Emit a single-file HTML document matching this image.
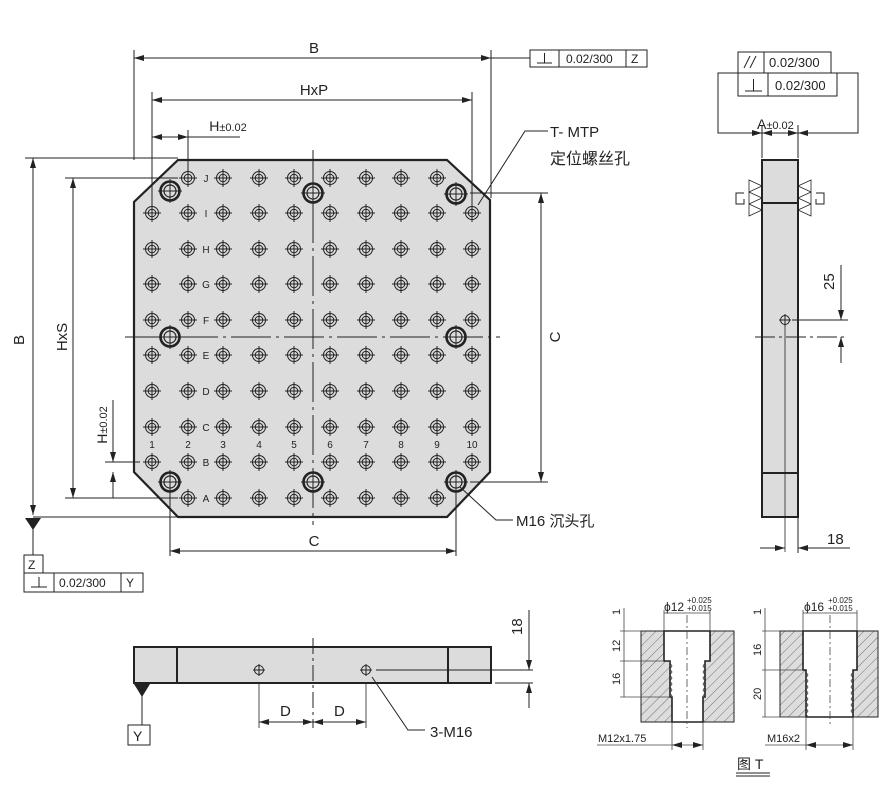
<!DOCTYPE html>
<html><head><meta charset="utf-8"><style>
html,body{margin:0;padding:0;background:#fff}
svg{display:block}
text{font-family:"Liberation Sans","Noto Sans CJK SC",sans-serif;fill:#222}
</style></head><body>
<svg width="896" height="800" viewBox="0 0 896 800" xmlns="http://www.w3.org/2000/svg">
<defs>
<g id="h" fill="none" stroke="#222" stroke-width="1">
<circle r="6.5"/><circle r="3.8"/><line x1="-9" y1="0" x2="9" y2="0"/><line x1="0" y1="-9" x2="0" y2="9"/>
</g>
<g id="b" fill="none" stroke="#222">
<circle r="9.5" stroke-width="2.6"/><circle r="6" stroke-width="1.2"/><line x1="-12" y1="0" x2="12" y2="0" stroke-width="1"/><line x1="0" y1="-12" x2="0" y2="12" stroke-width="1"/>
</g>
<g id="s" fill="none" stroke="#222" stroke-width="1">
<circle r="4.5"/><line x1="-6" y1="0" x2="6" y2="0"/><line x1="0" y1="-6" x2="0" y2="6"/>
</g>
<marker id="ar" viewBox="0 0 10 6" refX="10" refY="3" markerWidth="10" markerHeight="6" orient="auto-start-reverse" markerUnits="userSpaceOnUse"><path d="M0,0L10,3L0,6z" fill="#222"/></marker>
<pattern id="hat" width="7" height="7" patternUnits="userSpaceOnUse" patternTransform="rotate(45)"><rect width="7" height="7" fill="#ddd"/><line x1="0" y1="0" x2="0" y2="7" stroke="#555" stroke-width="0.8"/></pattern>
</defs>

<!-- main plate -->
<polygon points="178,160 447,160 490,200 490,472 447,517 178,517 134,472 134,202" fill="#dcdcdc" stroke="#222" stroke-width="2.2"/>
<g stroke="#222" stroke-width="1" fill="none">
<line x1="313" y1="150" x2="313" y2="525" stroke-dasharray="40,5,3,5"/>
<line x1="125" y1="337" x2="500" y2="337" stroke-dasharray="40,5,3,5"/>
</g>
<!-- grid -->
<g transform="translate(0,178)"><use href="#h" x="188"/><use href="#h" x="223"/><use href="#h" x="259"/><use href="#h" x="294"/><use href="#h" x="330"/><use href="#h" x="366"/><use href="#h" x="401"/><use href="#h" x="437"/></g>
<g transform="translate(0,213)"><use href="#h" x="152"/><use href="#h" x="188"/><use href="#h" x="223"/><use href="#h" x="259"/><use href="#h" x="294"/><use href="#h" x="330"/><use href="#h" x="366"/><use href="#h" x="401"/><use href="#h" x="437"/><use href="#h" x="472"/></g>
<g transform="translate(0,249)"><use href="#h" x="152"/><use href="#h" x="188"/><use href="#h" x="223"/><use href="#h" x="259"/><use href="#h" x="294"/><use href="#h" x="330"/><use href="#h" x="366"/><use href="#h" x="401"/><use href="#h" x="437"/><use href="#h" x="472"/></g>
<g transform="translate(0,284)"><use href="#h" x="152"/><use href="#h" x="188"/><use href="#h" x="223"/><use href="#h" x="259"/><use href="#h" x="294"/><use href="#h" x="330"/><use href="#h" x="366"/><use href="#h" x="401"/><use href="#h" x="437"/><use href="#h" x="472"/></g>
<g transform="translate(0,320)"><use href="#h" x="152"/><use href="#h" x="188"/><use href="#h" x="223"/><use href="#h" x="259"/><use href="#h" x="294"/><use href="#h" x="330"/><use href="#h" x="366"/><use href="#h" x="401"/><use href="#h" x="437"/><use href="#h" x="472"/></g>
<g transform="translate(0,355)"><use href="#h" x="152"/><use href="#h" x="188"/><use href="#h" x="223"/><use href="#h" x="259"/><use href="#h" x="294"/><use href="#h" x="330"/><use href="#h" x="366"/><use href="#h" x="401"/><use href="#h" x="437"/><use href="#h" x="472"/></g>
<g transform="translate(0,391)"><use href="#h" x="152"/><use href="#h" x="188"/><use href="#h" x="223"/><use href="#h" x="259"/><use href="#h" x="294"/><use href="#h" x="330"/><use href="#h" x="366"/><use href="#h" x="401"/><use href="#h" x="437"/><use href="#h" x="472"/></g>
<g transform="translate(0,427)"><use href="#h" x="152"/><use href="#h" x="188"/><use href="#h" x="223"/><use href="#h" x="259"/><use href="#h" x="294"/><use href="#h" x="330"/><use href="#h" x="366"/><use href="#h" x="401"/><use href="#h" x="437"/><use href="#h" x="472"/></g>
<g transform="translate(0,462)"><use href="#h" x="152"/><use href="#h" x="188"/><use href="#h" x="223"/><use href="#h" x="259"/><use href="#h" x="294"/><use href="#h" x="330"/><use href="#h" x="366"/><use href="#h" x="401"/><use href="#h" x="437"/><use href="#h" x="472"/></g>
<g transform="translate(0,498)"><use href="#h" x="188"/><use href="#h" x="223"/><use href="#h" x="259"/><use href="#h" x="294"/><use href="#h" x="330"/><use href="#h" x="366"/><use href="#h" x="401"/><use href="#h" x="437"/></g>
<use href="#b" x="170" y="191"/><use href="#b" x="313" y="193"/><use href="#b" x="456" y="194"/>
<use href="#b" x="170" y="337"/><use href="#b" x="456" y="337"/>
<use href="#b" x="170" y="482"/><use href="#b" x="313" y="482"/><use href="#b" x="456" y="482"/>
<g font-size="10" fill="#555" text-anchor="middle">
<text x="206" y="182">J</text><text x="206" y="217">I</text><text x="206" y="253">H</text><text x="206" y="288">G</text><text x="206" y="324">F</text><text x="206" y="359">E</text><text x="206" y="395">D</text><text x="206" y="431">C</text><text x="206" y="466">B</text><text x="206" y="502">A</text>
<text x="152" y="448">1</text><text x="188" y="448">2</text><text x="223" y="448">3</text><text x="259" y="448">4</text><text x="294" y="448">5</text><text x="330" y="448">6</text><text x="366" y="448">7</text><text x="401" y="448">8</text><text x="437" y="448">9</text><text x="472" y="448">10</text>
</g>

<!-- dimensions main -->
<g stroke="#222" stroke-width="1" fill="none">
<line x1="134" y1="50" x2="134" y2="160"/><line x1="491" y1="50" x2="491" y2="198"/>
<line x1="134" y1="58" x2="491" y2="58" marker-start="url(#ar)" marker-end="url(#ar)"/>
<line x1="491" y1="58" x2="530" y2="58"/>
<line x1="152" y1="92" x2="152" y2="205"/><line x1="472" y1="92" x2="472" y2="205"/>
<line x1="152" y1="100" x2="472" y2="100" marker-start="url(#ar)" marker-end="url(#ar)"/>
<line x1="188" y1="130" x2="188" y2="170"/>
<line x1="152" y1="137" x2="188" y2="137" marker-start="url(#ar)" marker-end="url(#ar)"/>
<line x1="188" y1="137" x2="240" y2="137"/>
<!-- left -->
<line x1="25" y1="158" x2="178" y2="158"/>
<line x1="33" y1="158" x2="33" y2="515" marker-start="url(#ar)" marker-end="url(#ar)"/>
<line x1="65" y1="178" x2="178" y2="178"/>
<line x1="73" y1="178" x2="73" y2="498" marker-start="url(#ar)" marker-end="url(#ar)"/>
<line x1="65" y1="498" x2="178" y2="498"/>
<line x1="105" y1="462" x2="140" y2="462"/>
<line x1="113" y1="400" x2="113" y2="462" marker-end="url(#ar)"/>
<line x1="113" y1="498" x2="113" y2="472" marker-end="url(#ar)"/>
<line x1="33" y1="517" x2="178" y2="517"/>
<line x1="33" y1="525" x2="33" y2="555"/>
<!-- right C -->
<line x1="470" y1="193" x2="548" y2="193"/><line x1="470" y1="482" x2="548" y2="482"/>
<line x1="541" y1="193" x2="541" y2="482" marker-start="url(#ar)" marker-end="url(#ar)"/>
<!-- bottom C -->
<line x1="170" y1="490" x2="170" y2="556"/><line x1="456" y1="490" x2="456" y2="556"/>
<line x1="170" y1="551" x2="456" y2="551" marker-start="url(#ar)" marker-end="url(#ar)"/>
<!-- leaders -->
<polyline points="548,131 525,131 478,205"/>
<polyline points="513,520 496,520 460,487"/>
</g>
<polygon points="25,518 41,518 33,530" fill="#222"/>
<g font-size="15" text-anchor="middle">
<text x="314" y="53">B</text><text x="314" y="95">HxP</text>
<text x="228" y="131" font-size="14">H<tspan font-size="11">±0.02</tspan></text>
<text x="314" y="546">C</text>
<text transform="translate(24,340) rotate(-90)">B</text>
<text transform="translate(67,337) rotate(-90)">HxS</text>
<text transform="translate(107,425) rotate(-90)" font-size="14">H<tspan font-size="11">±0.02</tspan></text>
<text transform="translate(560,337) rotate(-90)">C</text>
</g>
<text x="550" y="137" font-size="15">T- MTP</text>
<text x="550" y="164" font-size="16">定位螺丝孔</text>
<text x="516" y="526" font-size="15">M16 沉头孔</text>
<!-- tol box top -->
<g stroke="#222" stroke-width="1" fill="#fff">
<rect x="530" y="50" width="117" height="17"/>
<line x1="559" y1="50" x2="559" y2="67"/><line x1="626" y1="50" x2="626" y2="67"/>
<line x1="537" y1="63" x2="552" y2="63"/><line x1="544.5" y1="53" x2="544.5" y2="63"/>
<!-- Z box -->
<rect x="24" y="555" width="19" height="18"/>
<rect x="24" y="573" width="119" height="19"/>
<line x1="54" y1="573" x2="54" y2="592"/><line x1="121" y1="573" x2="121" y2="592"/>
<line x1="31" y1="587" x2="47" y2="587"/><line x1="39" y1="577" x2="39" y2="587"/>
</g>
<g font-size="12">
<text x="566" y="63">0.02/300</text><text x="631" y="63">Z</text>
<text x="28" y="569">Z</text>
<text x="59" y="587">0.02/300</text><text x="126" y="587">Y</text>
</g>

<!-- right side view -->
<rect x="762" y="160" width="36" height="357" fill="#dcdcdc" stroke="#222" stroke-width="2"/>
<g stroke="#222" fill="none">
<line x1="762" y1="203" x2="798" y2="203" stroke-width="2"/>
<line x1="762" y1="473" x2="798" y2="473" stroke-width="2"/>
<line x1="785" y1="320" x2="785" y2="552" stroke-width="0.8"/>
<line x1="755" y1="337" x2="848" y2="337" stroke-dasharray="20,4,3,4" stroke-width="1"/>
<line x1="792" y1="320" x2="848" y2="320" stroke-width="1"/>
<line x1="841" y1="265" x2="841" y2="320" stroke-width="1" marker-end="url(#ar)"/>
<line x1="841" y1="363" x2="841" y2="337" stroke-width="1" marker-end="url(#ar)"/>
<line x1="798" y1="517" x2="798" y2="553" stroke-width="1"/>
<line x1="760" y1="548" x2="785" y2="548" stroke-width="1" marker-end="url(#ar)"/>
<line x1="850" y1="548" x2="798" y2="548" stroke-width="1" marker-end="url(#ar)"/>
<!-- A dim -->
<line x1="762" y1="125" x2="762" y2="158" stroke-width="1"/><line x1="798" y1="125" x2="798" y2="158" stroke-width="1"/>
<polyline points="738,73 718,73 718,133 762,133" stroke-width="1"/>
<polyline points="831,73 858,73 858,133 798,133" stroke-width="1"/>
<line x1="745" y1="133" x2="762" y2="133" stroke-width="1" marker-end="url(#ar)"/>
<line x1="815" y1="133" x2="798" y2="133" stroke-width="1" marker-end="url(#ar)"/>
<line x1="762" y1="133" x2="780" y2="133" stroke-width="1" marker-start="url(#ar)"/>
<line x1="780" y1="133" x2="798" y2="133" stroke-width="1" marker-end="url(#ar)"/>
<!-- G triangles -->
<path d="M762,186 L749,180 L749,192 Z M762,198 L749,192 L749,204 Z M762,210 L749,204 L749,216 Z" stroke-width="0.8" fill="#fff"/>
<path d="M798,186 L811,180 L811,192 Z M798,198 L811,192 L811,204 Z M798,210 L811,204 L811,216 Z" stroke-width="0.8" fill="#fff"/>
<path d="M744,193 L736,193 L736,204 L744,204 L744,199" stroke-width="1"/>
<path d="M816,193 L824,193 L824,204 L816,204 L816,199" stroke-width="1"/>
</g>
<use href="#s" x="785" y="320"/>
<g stroke="#222" stroke-width="1" fill="#fff">
<rect x="738" y="52" width="93" height="21"/><line x1="764" y1="52" x2="764" y2="73"/>
<rect x="738" y="73" width="99" height="23"/><line x1="768" y1="73" x2="768" y2="96"/>
<line x1="745" y1="91" x2="762" y2="91"/><line x1="753.5" y1="79" x2="753.5" y2="91"/>
<line x1="744" y1="68" x2="750" y2="56"/><line x1="750" y1="68" x2="756" y2="56"/>
</g>
<g font-size="13">
<text x="769" y="67">0.02/300</text><text x="775" y="90">0.02/300</text>
<text x="757" y="129" font-size="14">A<tspan font-size="11">±0.02</tspan></text>
<text x="827" y="544" font-size="15">18</text>
<text transform="translate(834,290) rotate(-90)" font-size="15">25</text>
</g>

<!-- bottom side view -->
<rect x="134" y="647" width="357" height="36" fill="#dcdcdc" stroke="#222" stroke-width="2"/>
<g stroke="#222" fill="none">
<line x1="177" y1="647" x2="177" y2="683" stroke-width="2"/>
<line x1="448" y1="647" x2="448" y2="683" stroke-width="2"/>
<line x1="313" y1="638" x2="313" y2="728" stroke-width="1" stroke-dasharray="16,4,3,4"/>
<line x1="259" y1="683" x2="259" y2="728" stroke-width="0.8"/>
<line x1="366" y1="683" x2="366" y2="728" stroke-width="0.8"/>
<line x1="259" y1="722" x2="313" y2="722" stroke-width="1" marker-start="url(#ar)" marker-end="url(#ar)"/>
<line x1="313" y1="722" x2="366" y2="722" stroke-width="1" marker-start="url(#ar)" marker-end="url(#ar)"/>
<line x1="376" y1="670" x2="533" y2="670" stroke-width="1"/>
<line x1="495" y1="683" x2="533" y2="683" stroke-width="1"/>
<line x1="529" y1="610" x2="529" y2="670" stroke-width="1" marker-end="url(#ar)"/>
<line x1="529" y1="708" x2="529" y2="683" stroke-width="1" marker-end="url(#ar)"/>
<polyline points="372,677 408,730 425,730" stroke-width="1"/>
<line x1="142" y1="690" x2="142" y2="725" stroke-width="1"/>
</g>
<polygon points="134,684 150,684 142,697" fill="#222"/>
<use href="#s" x="259" y="670"/><use href="#s" x="366" y="670"/>
<rect x="128" y="725" width="22" height="20" fill="#fff" stroke="#222"/>
<text x="133" y="741" font-size="14">Y</text>
<g font-size="15">
<text x="280" y="716">D</text><text x="334" y="716">D</text>
<text x="430" y="737">3-M16</text>
<text transform="translate(522,635) rotate(-90)">18</text>
</g>

<!-- detail T left -->
<rect x="641" y="631" width="93" height="91" fill="url(#hat)" stroke="#222" stroke-width="1"/>
<path d="M664,631 H710 V661 H705 V697 H703 V722 H672 V697 H670 V661 H664 Z" fill="#fff" stroke="#222" stroke-width="1.6"/>
<g stroke="#444" stroke-width="0.8" fill="none">
<path d="M670,663 l2,3 -2,3 2,3 -2,3 2,3 -2,3 2,3 -2,3 2,3 -2,3 2,3"/>
<path d="M705,663 l-2,3 2,3 -2,3 2,3 -2,3 2,3 -2,3 2,3 -2,3 2,3 -2,3"/>
<line x1="687" y1="615" x2="687" y2="728" stroke-dasharray="8,3,2,3"/>
<line x1="620" y1="631" x2="641" y2="631"/><line x1="620" y1="661" x2="664" y2="661"/><line x1="620" y1="697" x2="670" y2="697"/>
<line x1="624" y1="608" x2="624" y2="697"/>
<line x1="664" y1="610" x2="664" y2="631"/><line x1="710" y1="610" x2="710" y2="631"/>
<line x1="664" y1="613" x2="710" y2="613"/>
<line x1="672" y1="722" x2="672" y2="750"/><line x1="703" y1="722" x2="703" y2="750"/>
<line x1="597" y1="745" x2="672" y2="745"/>
<line x1="672" y1="745" x2="703" y2="745" marker-start="url(#ar)" marker-end="url(#ar)"/>
</g>
<!-- detail T right -->
<rect x="780" y="631" width="98" height="86" fill="url(#hat)" stroke="#222" stroke-width="1"/>
<path d="M803,631 H857 V670 H853 V717 H806 V670 H803 Z" fill="#fff" stroke="#222" stroke-width="1.6"/>
<g stroke="#444" stroke-width="0.8" fill="none">
<path d="M806,672 l2,3 -2,3 2,3 -2,3 2,3 -2,3 2,3 -2,3 2,3 -2,3 2,3 -2,3 2,3 -2,3 2,3"/>
<path d="M853,672 l-2,3 2,3 -2,3 2,3 -2,3 2,3 -2,3 2,3 -2,3 2,3 -2,3 2,3 -2,3 2,3"/>
<line x1="830" y1="615" x2="830" y2="725" stroke-dasharray="8,3,2,3"/>
<line x1="762" y1="631" x2="780" y2="631"/><line x1="762" y1="670" x2="803" y2="670"/><line x1="762" y1="717" x2="806" y2="717"/>
<line x1="765" y1="608" x2="765" y2="717"/>
<line x1="803" y1="610" x2="803" y2="631"/><line x1="857" y1="610" x2="857" y2="631"/>
<line x1="803" y1="613" x2="857" y2="613"/>
<line x1="806" y1="717" x2="806" y2="750"/><line x1="853" y1="717" x2="853" y2="750"/>
<line x1="765" y1="745" x2="806" y2="745"/>
<line x1="806" y1="745" x2="853" y2="745" marker-start="url(#ar)" marker-end="url(#ar)"/>
</g>
<g font-size="11">
<text x="664" y="611" font-size="12">ϕ12</text><text x="687" y="603" font-size="8">+0.025</text><text x="687" y="611" font-size="8">+0.015</text>
<text x="804" y="611" font-size="12">ϕ16</text><text x="828" y="603" font-size="8">+0.025</text><text x="828" y="611" font-size="8">+0.015</text>
<text transform="translate(620,615) rotate(-90)">1</text>
<text transform="translate(620,652) rotate(-90)">12</text>
<text transform="translate(620,685) rotate(-90)">16</text>
<text transform="translate(761,615) rotate(-90)">1</text>
<text transform="translate(761,656) rotate(-90)">16</text>
<text transform="translate(761,700) rotate(-90)">20</text>
<text x="598" y="742">M12x1.75</text>
<text x="767" y="742">M16x2</text>
</g>
<text x="737" y="769" font-size="14">图 T</text>
<line x1="736" y1="773" x2="770" y2="773" stroke="#222"/><line x1="736" y1="776" x2="770" y2="776" stroke="#222"/>
</svg>
</body></html>
